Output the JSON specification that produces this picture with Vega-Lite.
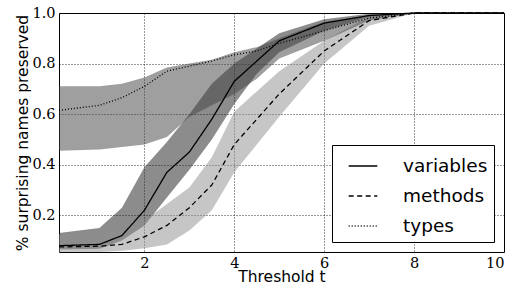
{
  "$schema": "https://vega.github.io/schema/vega-lite/v6.json",
  "width": 445,
  "height": 239,
  "autosize": {"type": "none"},
  "padding": {"left": 59, "top": 13, "right": 13, "bottom": 37},
  "background": "white",
  "config": {
    "view": {"stroke": "#000", "strokeWidth": 1},
    "axis": {
      "domain": false,
      "ticks": false,
      "grid": true,
      "gridColor": "#000",
      "gridDash": [1, 2],
      "gridWidth": 0.8,
      "gridOpacity": 1,
      "labelFont": "DejaVu Serif",
      "labelFontSize": 14.5,
      "labelColor": "#000",
      "titleFont": "DejaVu Sans",
      "titleFontSize": 15.5,
      "titleFontWeight": "normal",
      "titleColor": "#000"
    },
    "legend": {
      "labelFont": "DejaVu Sans",
      "labelFontSize": 18.5,
      "labelColor": "#000"
    }
  },
  "data": {
    "values": [
      {"x": 0.1, "series": "variables", "mean": 0.08, "lo": 0.065, "hi": 0.13},
      {"x": 1, "series": "variables", "mean": 0.085, "lo": 0.068, "hi": 0.15},
      {"x": 1.5, "series": "variables", "mean": 0.12, "lo": 0.10, "hi": 0.23},
      {"x": 2, "series": "variables", "mean": 0.22, "lo": 0.16, "hi": 0.39},
      {"x": 2.5, "series": "variables", "mean": 0.37, "lo": 0.27, "hi": 0.49},
      {"x": 3, "series": "variables", "mean": 0.45, "lo": 0.38, "hi": 0.60},
      {"x": 3.5, "series": "variables", "mean": 0.58, "lo": 0.50, "hi": 0.72},
      {"x": 4, "series": "variables", "mean": 0.73, "lo": 0.64, "hi": 0.80},
      {"x": 4.5, "series": "variables", "mean": 0.81, "lo": 0.76, "hi": 0.86},
      {"x": 5, "series": "variables", "mean": 0.89, "lo": 0.845, "hi": 0.92},
      {"x": 6, "series": "variables", "mean": 0.96, "lo": 0.93, "hi": 0.975},
      {"x": 7, "series": "variables", "mean": 0.99, "lo": 0.985, "hi": 0.997},
      {"x": 8, "series": "variables", "mean": 1.0, "lo": 1.0, "hi": 1.0},
      {"x": 9, "series": "variables", "mean": 1.0, "lo": 1.0, "hi": 1.0},
      {"x": 10, "series": "variables", "mean": 1.0, "lo": 1.0, "hi": 1.0},
      {"x": 0.1, "series": "methods", "mean": 0.075, "lo": 0.055, "hi": 0.125},
      {"x": 1, "series": "methods", "mean": 0.078, "lo": 0.055, "hi": 0.13},
      {"x": 1.5, "series": "methods", "mean": 0.085, "lo": 0.06, "hi": 0.145},
      {"x": 2, "series": "methods", "mean": 0.115, "lo": 0.07, "hi": 0.18},
      {"x": 2.5, "series": "methods", "mean": 0.16, "lo": 0.085, "hi": 0.245},
      {"x": 3, "series": "methods", "mean": 0.23, "lo": 0.14, "hi": 0.31},
      {"x": 3.5, "series": "methods", "mean": 0.32, "lo": 0.22, "hi": 0.43},
      {"x": 4, "series": "methods", "mean": 0.48, "lo": 0.37, "hi": 0.61},
      {"x": 4.5, "series": "methods", "mean": 0.58, "lo": 0.48, "hi": 0.69},
      {"x": 5, "series": "methods", "mean": 0.68, "lo": 0.59, "hi": 0.77},
      {"x": 6, "series": "methods", "mean": 0.85, "lo": 0.80, "hi": 0.89},
      {"x": 7, "series": "methods", "mean": 0.97, "lo": 0.95, "hi": 0.985},
      {"x": 8, "series": "methods", "mean": 1.0, "lo": 1.0, "hi": 1.0},
      {"x": 9, "series": "methods", "mean": 1.0, "lo": 1.0, "hi": 1.0},
      {"x": 10, "series": "methods", "mean": 1.0, "lo": 1.0, "hi": 1.0},
      {"x": 0.1, "series": "types", "mean": 0.615, "lo": 0.455, "hi": 0.71},
      {"x": 1, "series": "types", "mean": 0.635, "lo": 0.46, "hi": 0.71},
      {"x": 1.5, "series": "types", "mean": 0.665, "lo": 0.47, "hi": 0.72},
      {"x": 2, "series": "types", "mean": 0.71, "lo": 0.48, "hi": 0.745},
      {"x": 2.5, "series": "types", "mean": 0.77, "lo": 0.51, "hi": 0.785},
      {"x": 3, "series": "types", "mean": 0.79, "lo": 0.59, "hi": 0.80},
      {"x": 3.5, "series": "types", "mean": 0.81, "lo": 0.635, "hi": 0.815},
      {"x": 4, "series": "types", "mean": 0.835, "lo": 0.68, "hi": 0.845},
      {"x": 4.5, "series": "types", "mean": 0.85, "lo": 0.74, "hi": 0.865},
      {"x": 5, "series": "types", "mean": 0.88, "lo": 0.82, "hi": 0.90},
      {"x": 6, "series": "types", "mean": 0.93, "lo": 0.89, "hi": 0.965},
      {"x": 7, "series": "types", "mean": 0.98, "lo": 0.97, "hi": 0.99},
      {"x": 8, "series": "types", "mean": 1.0, "lo": 1.0, "hi": 1.0},
      {"x": 9, "series": "types", "mean": 1.0, "lo": 1.0, "hi": 1.0},
      {"x": 10, "series": "types", "mean": 1.0, "lo": 1.0, "hi": 1.0}
    ]
  },
  "encoding": {
    "x": {
      "field": "x", "type": "quantitative",
      "scale": {"domain": [0.1, 10], "nice": false, "zero": false},
      "axis": {"values": [2, 4, 6, 8, 10], "format": "d", "labelPadding": 4, "title": "Threshold t", "titlePadding": 0}
    }
  },
  "layer": [
    {
      "mark": {"type": "area", "opacity": 0.5, "interpolate": "linear"},
      "encoding": {
        "y": {
          "field": "lo", "type": "quantitative",
          "scale": {"domain": [0.055, 1.0], "nice": false, "zero": false},
          "axis": {"values": [0.2, 0.4, 0.6, 0.8, 1.0], "format": ".1f", "labelPadding": 4, "title": "% surprising names preserved", "titlePadding": 1}
        },
        "y2": {"field": "hi"},
        "fill": {
          "field": "series", "type": "nominal",
          "scale": {"domain": ["variables", "methods", "types"], "range": ["#1a1a1a", "#8e8e8e", "#404040"]},
          "legend": null
        }
      }
    },
    {
      "mark": {"type": "line", "color": "#000", "strokeWidth": 1.3},
      "encoding": {
        "y": {"field": "mean", "type": "quantitative"},
        "strokeDash": {
          "field": "series", "type": "nominal",
          "scale": {"domain": ["variables", "methods", "types"], "range": [[1, 0], [5, 3.5], [1, 2]]},
          "legend": {
            "title": null,
            "orient": "bottom-right",
            "offset": 10,
            "symbolType": "stroke",
            "symbolSize": 820,
            "symbolStrokeColor": "#000",
            "symbolStrokeWidth": 1.3,
            "symbolOffset": 10,
            "labelOffset": 25,
            "rowPadding": 5,
            "padding": 6,
            "strokeColor": "#000",
            "fillColor": "#fff",
            "cornerRadius": 0
          }
        }
      }
    }
  ],
  "resolve": {"legend": {"strokeDash": "independent"}}
}
